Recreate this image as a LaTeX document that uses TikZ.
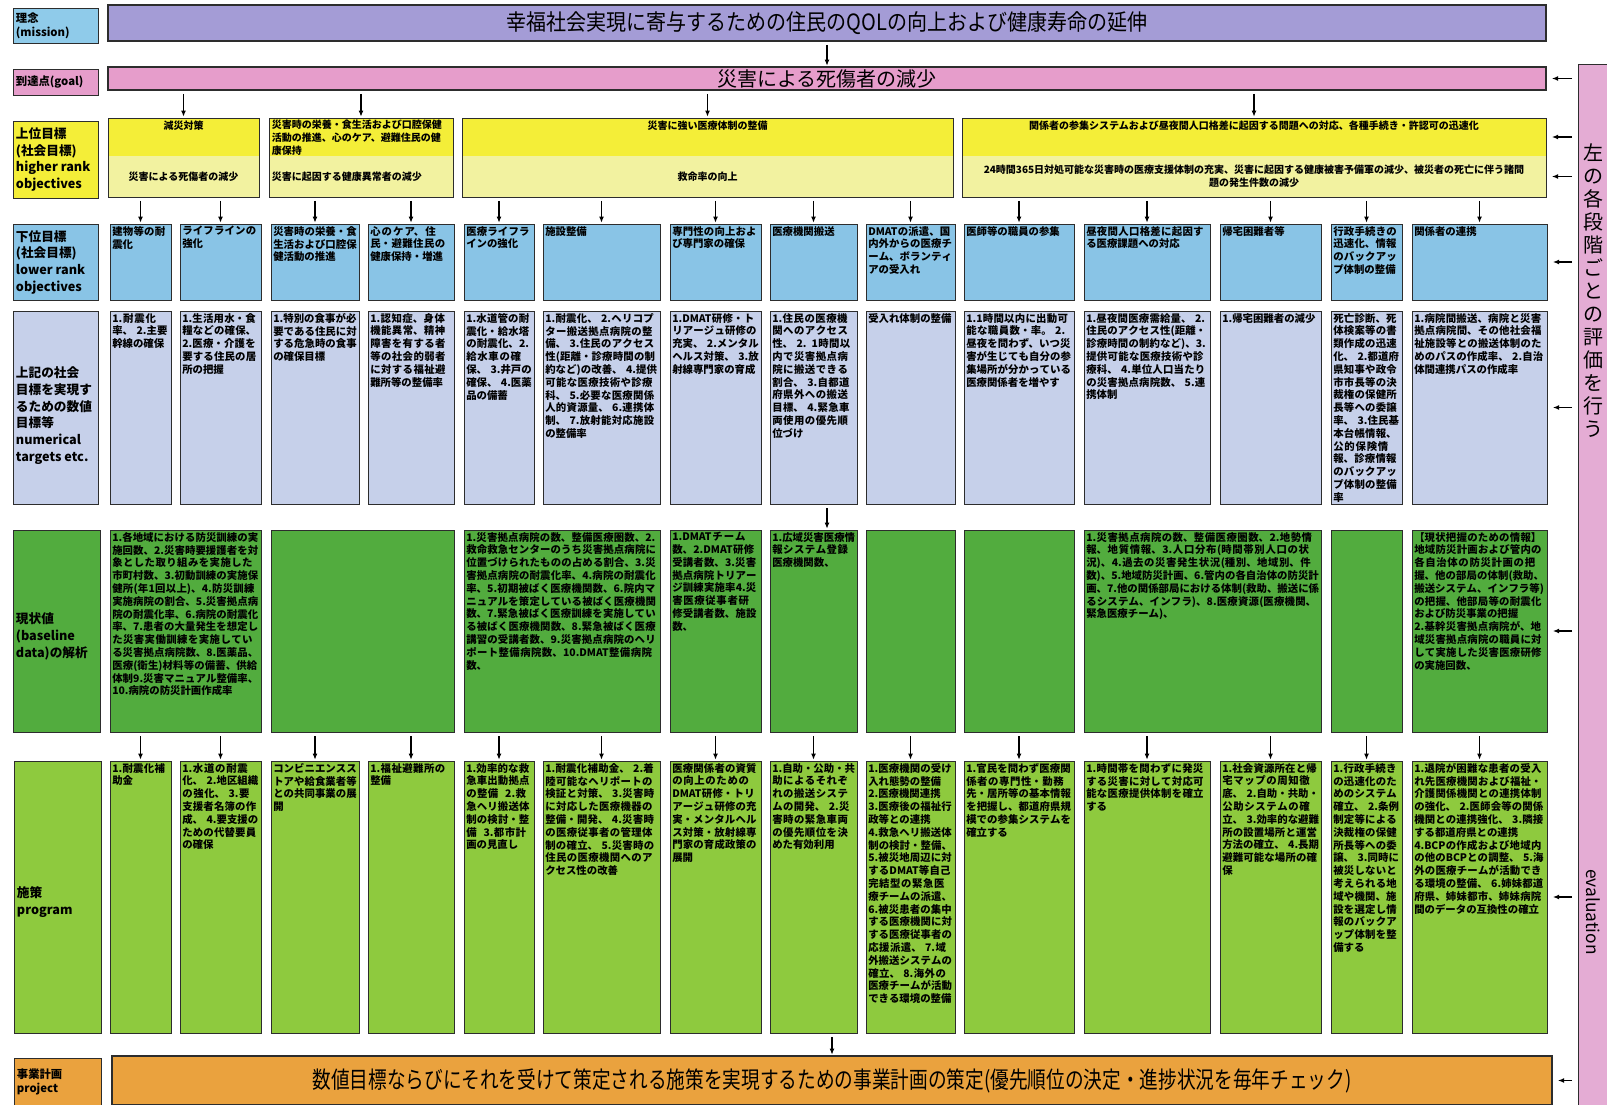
\documentclass[tikz,border=0pt]{standalone}
\usepackage{fontspec}
\usepackage{graphicx}
\setmainfont{Noto Sans CJK JP}
\usetikzlibrary{arrows.meta,positioning}

\XeTeXlinebreaklocale "ja"
\XeTeXlinebreakskip=0pt plus 1pt

\definecolor{missionfill}{RGB}{164,156,214}
\definecolor{missionlab}{RGB}{143,203,234}
\definecolor{goalfill}{RGB}{230,157,203}
\definecolor{highfill}{RGB}{244,238,56}
\definecolor{highpale}{RGB}{242,242,160}
\definecolor{lowfill}{RGB}{137,196,230}
\definecolor{numfill}{RGB}{198,208,234}
\definecolor{basefill}{RGB}{82,172,62}
\definecolor{progfill}{RGB}{142,202,62}
\definecolor{projfill}{RGB}{234,162,62}
\definecolor{evalfill}{RGB}{228,172,212}
\definecolor{edge}{RGB}{45,45,45}

% empty box from (x1,y1) to (x2,y2), in pixels of the sheet
\newcommand{\fillbox}[6]{%
  \node[#2, minimum width={(#5-#3)*0.75pt}, minimum height={(#6-#4)*0.75pt}, anchor=north west] (#1) at (#3,#4) {};}
% box with its text set from the top left corner
\newcommand{\gridcell}[7]{%
  \fillbox{#1}{#2}{#3}{#4}{#5}{#6}%
  \pgfmathsetlengthmacro{\cellwd}{(#5-#3)*0.75pt-3pt}%
  \node[celltext, text width=\cellwd, anchor=north west] (#1txt) at ([shift={(1.5pt,-1.5pt)}]#1.north west) {#7};}

\begin{document}
\begin{tikzpicture}[
    x=0.75pt, y=-0.75pt,
    cellframe/.style={draw=edge, line width=0.6pt, inner sep=0pt, outer sep=0pt},
    labelbox/.style={cellframe},
    bar/.style={cellframe, line width=0.8pt},
    lowcell/.style={cellframe, fill=lowfill},
    numcell/.style={cellframe, fill=numfill},
    basecell/.style={cellframe, fill=basefill},
    progcell/.style={cellframe, fill=progfill},
    hightop/.style={inner sep=0pt, outer sep=0pt, fill=highfill},
    highbot/.style={inner sep=0pt, outer sep=0pt, fill=highpale},
    celltext/.style={inner sep=0pt, align=left, font=\fontsize{7.8}{9.6}\selectfont\bfseries},
    hightext/.style={inner sep=0pt, font=\fontsize{7.5}{9.6}\selectfont\bfseries},
    labeltext/.style={inner sep=0pt, align=left, font=\fontsize{9.5}{12.5}\selectfont\bfseries},
    smalllabel/.style={labeltext, font=\fontsize{8.5}{10.5}\selectfont\bfseries},
    bartext/.style={inner sep=0pt, font=\fontsize{15}{18}\selectfont},
    arrow/.style={-{Latex[length=4.5pt,width=3.6pt]}, line width=0.8pt, shorten <=3pt, shorten >=1pt},
    evalarrow/.style={arrow, shorten <=4.5pt, shorten >=4.5pt}
]
\useasboundingbox (0,0) rectangle (1607,1105);
\fill[white] (0,0) rectangle (1607,1105);

% mission, goal
\fillbox{labmission}{labelbox, fill=missionlab}{13}{8}{98}{43}
\node[smalllabel, anchor=west] (labmissiontxt) at ([xshift=2pt]labmission.west) {理念\\(mission)};
\fillbox{mission}{bar, fill=missionfill}{108}{5}{1546}{41}
\node[bartext] (missiontxt) at (mission.center) {\scalebox{1}[1.12]{幸福社会実現に寄与するための住民のQOLの向上および健康寿命の延伸}};

\fillbox{labgoal}{labelbox, fill=goalfill}{13}{69}{98}{95}
\node[smalllabel, anchor=west] (labgoaltxt) at ([xshift=2pt]labgoal.west) {到達点(goal)};
\fillbox{goal}{bar, fill=goalfill}{108}{67}{1546}{90}
\node[bartext] (goaltxt) at (goal.center) {災害による死傷者の減少};

% higher rank objectives
\fillbox{labhigh}{labelbox, fill=highfill}{13}{121}{98}{198}
\node[labeltext, anchor=west] (labhightxt) at ([xshift=2pt]labhigh.west) {上位目標\\(社会目標)\\higher rank\\objectives};

\fillbox{hightop1}{hightop}{108}{118}{259}{156}
\fillbox{highbot1}{highbot}{108}{156}{259}{197}
\draw[cellframe] (hightop1.north west) rectangle (highbot1.south east);
\node[hightext, anchor=north] (hightxt1) at ([yshift=-2pt]hightop1.north) {減災対策};
\node[hightext] (highsub1) at (highbot1.center) {災害による死傷者の減少};

\fillbox{hightop2}{hightop}{269}{118}{453}{156}
\fillbox{highbot2}{highbot}{269}{156}{453}{197}
\draw[cellframe] (hightop2.north west) rectangle (highbot2.south east);
\node[hightext, align=left, anchor=north west] (hightxt2) at ([shift={(2pt,-1.5pt)}]hightop2.north west) {災害時の栄養・食生活および口腔保健\\活動の推進、心のケア、避難住民の健\\康保持};
\node[hightext, anchor=west] (highsub2) at ([xshift=2pt]highbot2.west) {災害に起因する健康異常者の減少};

\fillbox{hightop3}{hightop}{462}{118}{953}{156}
\fillbox{highbot3}{highbot}{462}{156}{953}{197}
\draw[cellframe] (hightop3.north west) rectangle (highbot3.south east);
\node[hightext, anchor=north] (hightxt3) at ([yshift=-2pt]hightop3.north) {災害に強い医療体制の整備};
\node[hightext] (highsub3) at (highbot3.center) {救命率の向上};

\fillbox{hightop4}{hightop}{962}{118}{1546}{156}
\fillbox{highbot4}{highbot}{962}{156}{1546}{197}
\draw[cellframe] (hightop4.north west) rectangle (highbot4.south east);
\node[hightext, anchor=north] (hightxt4) at ([yshift=-2pt]hightop4.north) {関係者の参集システムおよび昼夜間人口格差に起因する問題への対応、各種手続き・許認可の迅速化};
\node[hightext, align=center] (highsub4) at (highbot4.center) {24時間365日対処可能な災害時の医療支援体制の充実、災害に起因する健康被害予備軍の減少、被災者の死亡に伴う諸問\\題の発生件数の減少};

% lower rank objectives
\fillbox{lablow}{labelbox, fill=lowfill}{13}{224}{98}{300}
\node[labeltext, anchor=west] (lablowtxt) at ([xshift=2pt]lablow.west) {下位目標\\(社会目標)\\lower rank\\objectives};
\gridcell{low1}{lowcell}{110}{224}{171}{300}{建物等の耐震化}
\gridcell{low2}{lowcell}{180}{224}{261}{300}{ライフラインの強化}
\gridcell{low3}{lowcell}{271}{224}{359}{300}{災害時の栄養・食生活および口腔保健活動の推進}
\gridcell{low4}{lowcell}{368}{224}{454}{300}{心のケア、住民・避難住民の健康保持・増進}
\gridcell{low5}{lowcell}{464}{224}{534}{300}{医療ライフラインの強化}
\gridcell{low6}{lowcell}{543}{224}{660}{300}{施設整備}
\gridcell{low7}{lowcell}{670}{224}{761}{300}{専門性の向上および専門家の確保}
\gridcell{low8}{lowcell}{770}{224}{857}{300}{医療機関搬送}
\gridcell{low9}{lowcell}{866}{224}{955}{300}{DMATの派遣、国内外からの医療チーム、ボランティアの受入れ}
\gridcell{low10}{lowcell}{964}{224}{1074}{300}{医師等の職員の参集}
\gridcell{low11}{lowcell}{1084}{224}{1210}{300}{昼夜間人口格差に起因する医療課題への対応}
\gridcell{low12}{lowcell}{1220}{224}{1321}{300}{帰宅困難者等}
\gridcell{low13}{lowcell}{1331}{224}{1402}{300}{行政手続きの迅速化、情報のバックアップ体制の整備}
\gridcell{low14}{lowcell}{1412}{224}{1547}{300}{関係者の連携}

% numerical targets
\fillbox{labnum}{labelbox, fill=numfill}{13}{311}{98}{504}
\node[labeltext, anchor=west] (labnumtxt) at ([shift={(2pt,-6pt)}]labnum.west) {上記の社会\\目標を実現す\\るための数値\\目標等\\numerical\\targets etc.};
\gridcell{num1}{numcell}{110}{311}{171}{504}{1.耐震化率、 2.主要幹線の確保}
\gridcell{num2}{numcell}{180}{311}{261}{504}{1.生活用水・食糧などの確保、2.医療・介護を要する住民の居所の把握}
\gridcell{num3}{numcell}{271}{311}{359}{504}{1.特別の食事が必要である住民に対する危急時の食事の確保目標}
\gridcell{num4}{numcell}{368}{311}{454}{504}{1.認知症、身体機能異常、精神障害を有する者等の社会的弱者に対する福祉避難所等の整備率}
\gridcell{num5}{numcell}{464}{311}{534}{504}{1.水道管の耐震化・給水塔の耐震化、2.給水車の確保、 3.井戸の確保、 4.医薬品の備蓄}
\gridcell{num6}{numcell}{543}{311}{660}{504}{1.耐震化、 2.ヘリコプター搬送拠点病院の整備、 3.住民のアクセス性(距離・診療時間の制約など)の改善、 4.提供可能な医療技術や診療科、 5.必要な医療関係人的資源量、 6.連携体制、 7.放射能対応施設の整備率}
\gridcell{num7}{numcell}{670}{311}{761}{504}{1.DMAT研修・トリアージュ研修の充実、 2.メンタルヘルス対策、 3.放射線専門家の育成}
\gridcell{num8}{numcell}{770}{311}{857}{504}{1.住民の医療機関へのアクセス性、 2. 1時間以内で災害拠点病院に搬送できる割合、 3.自都道府県外への搬送目標、 4.緊急車両使用の優先順位づけ}
\gridcell{num9}{numcell}{866}{311}{955}{504}{受入れ体制の整備}
\gridcell{num10}{numcell}{964}{311}{1074}{504}{1.1時間以内に出動可能な職員数・率。 2.昼夜を問わず、いつ災害が生じても自分の参集場所が分かっている医療関係者を増やす}
\gridcell{num11}{numcell}{1084}{311}{1210}{504}{1.昼夜間医療需給量、 2.住民のアクセス性(距離・診療時間の制約など)、3.提供可能な医療技術や診療科、 4.単位人口当たりの災害拠点病院数、 5.連携体制}
\gridcell{num12}{numcell}{1220}{311}{1321}{504}{1.帰宅困難者の減少}
\gridcell{num13}{numcell}{1331}{311}{1402}{504}{死亡診断、死体検案等の書類作成の迅速化、 2.都道府県知事や政令市市長等の決裁権の保健所長等への委譲率、 3.住民基本台帳情報、公的保険情報、診療情報のバックアップ体制の整備率}
\gridcell{num14}{numcell}{1412}{311}{1547}{504}{1.病院間搬送、病院と災害拠点病院間、その他社会福祉施設等との搬送体制のためのパスの作成率、 2.自治体間連携パスの作成率}

% baseline data
\fillbox{labbase}{labelbox, fill=basefill}{13}{530}{100}{732}
\node[labeltext, anchor=west] (labbasetxt) at ([shift={(2pt,-4pt)}]labbase.west) {現状値\\(baseline\\data)の解析};
\gridcell{base1}{basecell}{110}{530}{261}{732}{1.各地域における防災訓練の実施回数、2.災害時要援護者を対象とした取り組みを実施した市町村数、3.初動訓練の実施保健所(年1回以上)、4.防災訓練実施病院の割合、5.災害拠点病院の耐震化率、6.病院の耐震化率、7.患者の大量発生を想定した災害実働訓練を実施している災害拠点病院数、8.医薬品、医療(衛生)材料等の備蓄、供給体制9.災害マニュアル整備率、10.病院の防災計画作成率}
\gridcell{base2}{basecell}{271}{530}{454}{732}{}
\gridcell{base3}{basecell}{464}{530}{660}{732}{1.災害拠点病院の数、整備医療圏数、2.救命救急センターのうち災害拠点病院に位置づけられたものの占める割合、3.災害拠点病院の耐震化率、4.病院の耐震化率、5.初期被ばく医療機関数、6.院内マニュアルを策定している被ばく医療機関数、7.緊急被ばく医療訓練を実施している被ばく医療機関数、8.緊急被ばく医療講習の受講者数、9.災害拠点病院のヘリポート整備病院数、10.DMAT整備病院数、}
\gridcell{base4}{basecell}{670}{530}{761}{732}{1.DMATチーム数、2.DMAT研修受講者数、3.災害拠点病院トリアージ訓練実施率4.災害医療従事者研修受講者数、施設数、}
\gridcell{base5}{basecell}{770}{530}{857}{732}{1.広域災害医療情報システム登録医療機関数、}
\gridcell{base6}{basecell}{866}{530}{955}{732}{}
\gridcell{base7}{basecell}{964}{530}{1074}{732}{}
\gridcell{base8}{basecell}{1084}{530}{1321}{732}{1.災害拠点病院の数、整備医療圏数、2.地勢情報、地質情報、3.人口分布(時間帯別人口の状況)、4.過去の災害発生状況(種別、地域別、件数)、5.地域防災計画、6.管内の各自治体の防災計画、7.他の関係部局における体制(救助、搬送に係るシステム、インフラ)、8.医療資源(医療機関、緊急医療チーム)、}
\gridcell{base9}{basecell}{1331}{530}{1402}{732}{}
\gridcell{base10}{basecell}{1412}{530}{1547}{732}{【現状把握のための情報】地域防災計画および管内の各自治体の防災計画の把握、他の部局の体制(救助、搬送システム、インフラ等)の把握、他部局等の耐震化および防災事業の把握\\2.基幹災害拠点病院が、地域災害拠点病院の職員に対して実施した災害医療研修の実施回数、}

% program
\fillbox{labprog}{labelbox, fill=progfill}{14}{761}{101}{1033}
\node[labeltext, anchor=west] (labprogtxt) at ([shift={(2pt,-4pt)}]labprog.west) {施策\\program};
\gridcell{prog1}{progcell}{110}{761}{171}{1033}{1.耐震化補助金}
\gridcell{prog2}{progcell}{180}{761}{261}{1033}{1.水道の耐震化、 2.地区組織の強化、 3.要支援者名簿の作成、 4.要支援のための代替要員の確保}
\gridcell{prog3}{progcell}{271}{761}{359}{1033}{コンビニエンスストアや給食業者等との共同事業の展開}
\gridcell{prog4}{progcell}{368}{761}{454}{1033}{1.福祉避難所の整備}
\gridcell{prog5}{progcell}{464}{761}{534}{1033}{1.効率的な救急車出動拠点の整備 \ 2.救急ヘリ搬送体制の検討・整備 \ 3.都市計画の見直し}
\gridcell{prog6}{progcell}{543}{761}{660}{1033}{1.耐震化補助金、 2.着陸可能なヘリポートの検証と対策、 3.災害時に対応した医療機器の整備・開発、 4.災害時の医療従事者の管理体制の確立、 5.災害時の住民の医療機関へのアクセス性の改善}
\gridcell{prog7}{progcell}{670}{761}{761}{1033}{医療関係者の資質の向上のためのDMAT研修・トリアージュ研修の充実・メンタルヘルス対策・放射線専門家の育成政策の展開}
\gridcell{prog8}{progcell}{770}{761}{857}{1033}{1.自助・公助・共助によるそれぞれの搬送システムの開発、 2.災害時の緊急車両の優先順位を決めた有効利用}
\gridcell{prog9}{progcell}{866}{761}{955}{1033}{1.医療機関の受け入れ態勢の整備\\2.医療機関連携\\3.医療後の福祉行政等との連携\\4.救急ヘリ搬送体制の検討・整備、 5.被災地周辺に対するDMAT等自己完結型の緊急医療チームの派遣、 6.被災患者の集中する医療機関に対する医療従事者の応援派遣、 7.域外搬送システムの確立、 8.海外の医療チームが活動できる環境の整備}
\gridcell{prog10}{progcell}{964}{761}{1074}{1033}{1.官民を問わず医療関係者の専門性・勤務先・居所等の基本情報を把握し、都道府県規模での参集システムを確立する}
\gridcell{prog11}{progcell}{1084}{761}{1210}{1033}{1.時間帯を問わずに発災する災害に対して対応可能な医療提供体制を確立する}
\gridcell{prog12}{progcell}{1220}{761}{1321}{1033}{1.社会資源所在と帰宅マップの周知徹底、 2.自助・共助・公助システムの確立、 3.効率的な避難所の設置場所と運営方法の確立、 4.長期避難可能な場所の確保}
\gridcell{prog13}{progcell}{1331}{761}{1402}{1033}{1.行政手続きの迅速化のためのシステム確立、 2.条例制定等による決裁権の保健所長等への委譲、 3.同時に被災しないと考えられる地域や機関、施設を選定し情報のバックアップ体制を整備する}
\gridcell{prog14}{progcell}{1412}{761}{1547}{1033}{1.退院が困難な患者の受入れ先医療機関および福祉・介護関係機関との連携体制の強化、 2.医師会等の関係機関との連携強化、 3.隣接する都道府県との連携\\4.BCPの作成および地域内の他のBCPとの調整、 5.海外の医療チームが活動できる環境の整備、 6.姉妹都道府県、姉妹都市、姉妹病院間のデータの互換性の確立}

% project
\fillbox{labproj}{labelbox, fill=projfill}{14}{1058}{101}{1105}
\node[smalllabel, anchor=west] (labprojtxt) at ([xshift=2pt]labproj.west) {事業計画\\project};
\fillbox{project}{bar, fill=projfill}{112}{1056}{1552}{1105}
\node[bartext, font=\fontsize{14}{17}\selectfont] (projecttxt) at (project.center) {\scalebox{1}[1.25]{数値目標ならびにそれを受けて策定される施策を実現するための事業計画の策定(優先順位の決定・進捗状況を毎年チェック)}};

% evaluation
\fillbox{evalbar}{cellframe, fill=evalfill}{1578}{64}{1608}{1106}
\node[inner sep=0pt, align=center, font=\fontsize{15}{17.3}\selectfont, anchor=north] (evaltxt) at (1593,143) {左\\の\\各\\段\\階\\ご\\と\\の\\評\\価\\を\\行\\う};
\node[inner sep=0pt, rotate=-90, font=\fontsize{13}{15}\selectfont] (evalword) at (1593,912) {evaluation};

\draw[arrow] (mission.south) -- (goal.north);
\foreach \h in {1,...,4}
  \draw[arrow] (goal.south -| hightop\h.north) -- (hightop\h.north);
\foreach \h/\l in {1/1,1/2,2/3,2/4,3/5,3/6,3/7,3/8,3/9,4/10,4/11,4/12,4/13,4/14}
  \draw[arrow] (highbot\h.south -| low\l.north) -- (low\l.north);
\draw[arrow] (num8.south -| mission.south) -- (base5.north -| mission.south);
\foreach \b/\p in {1/1,1/2,2/3,2/4,3/5,3/6,4/7,5/8,6/9,7/10,8/11,8/12,9/13,10/14}
  \draw[arrow] (base\b.south -| prog\p.north) -- (prog\p.north);
\draw[arrow] (prog8.south -| project.north) -- (project.north);
\foreach \n in {goal,hightop4,highbot4,low14,num14,base10,prog14,project}
  \draw[evalarrow] (evalbar.west |- \n.east) -- (\n.east);
\end{tikzpicture}
\end{document}
